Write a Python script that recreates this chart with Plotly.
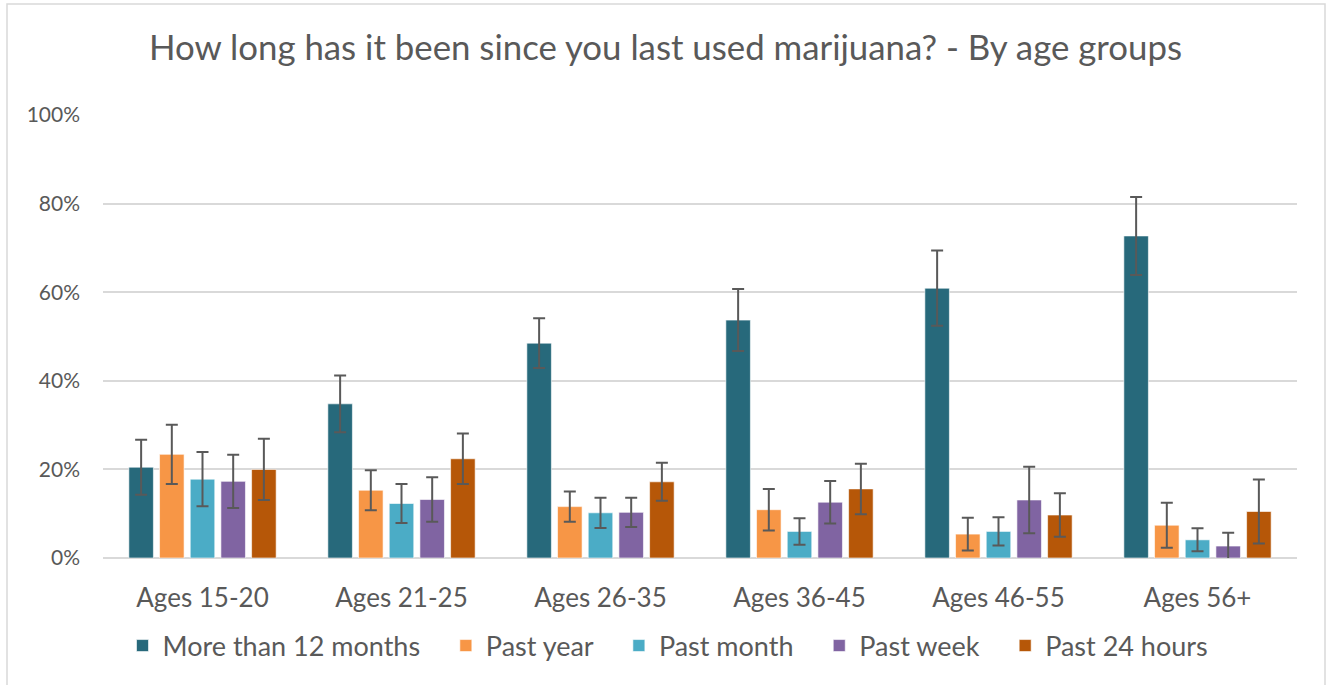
import plotly.graph_objects as go

categories = ["Ages 15-20", "Ages 21-25", "Ages 26-35", "Ages 36-45", "Ages 46-55", "Ages 56+"]

series_names = ["More than 12 months", "Past year", "Past month", "Past week", "Past 24 hours"]

more_than_12_months = [20.5, 34.8, 48.5, 53.7, 60.9, 72.7]
more_than_12_months_err = [6.2, 6.4, 5.6, 7.0, 8.5, 8.8]

past_year = [23.4, 15.3, 11.6, 10.9, 5.4, 7.4]
past_year_err = [6.7, 4.5, 3.4, 4.7, 3.7, 5.1]

past_month = [17.8, 12.3, 10.2, 6.0, 6.0, 4.1]
past_month_err = [6.1, 4.4, 3.4, 3.0, 3.2, 2.6]

past_week = [17.3, 13.2, 10.3, 12.6, 13.1, 2.7]
past_week_err = [6.0, 5.0, 3.3, 4.8, 7.5, 3.0]

past_24_hours = [20.0, 22.4, 17.2, 15.6, 9.7, 10.5]
past_24_hours_err = [6.9, 5.7, 4.3, 5.7, 4.9, 7.2]

colors = ["#27697B", "#F79646", "#4BACC6", "#8064A2", "#B65708"]

values = [more_than_12_months, past_year, past_month, past_week, past_24_hours]
errors = [more_than_12_months_err, past_year_err, past_month_err, past_week_err, past_24_hours_err]

FONT = "Lato"
TXT = "#595959"
PAD = "\u00a0" * 3  # extra spacing between legend entries

fig = go.Figure()
for i, (name, vals, errs, col) in enumerate(zip(series_names, values, errors, colors)):
    label = name + (PAD if i < len(series_names) - 1 else "")
    fig.add_trace(go.Bar(
        x=categories, y=vals, name=label,
        marker=dict(color=col, line=dict(color="rgba(255,255,255,0.6)", width=1)),
        error_y=dict(type="data", array=errs, visible=True, color="#595959",
                     thickness=2, width=6),
    ))

# plot area geometry (pixels)
W, H = 1331, 685
L, R, T, B = 103, 1297, 115, 558

fig.update_layout(
    width=W, height=H,
    margin=dict(l=L, r=W - R, t=T, b=H - B, pad=0),
    paper_bgcolor="white", plot_bgcolor="white",
    barmode="group", bargap=0.229, bargroupgap=0.2,
    font=dict(family=FONT, color=TXT),
    title=dict(text="How long has it been since you last used marijuana? - By age groups",
               x=0.5, xanchor="center", y=1 - 48 / H, yanchor="middle",
               font=dict(size=34.8, family=FONT, color=TXT)),
    legend=dict(orientation="h", x=(668 - L) / (R - L), xanchor="center",
                y=(B - 646) / (B - T), yanchor="middle",
                font=dict(size=27, family=FONT, color=TXT),
                traceorder="normal"),
    xaxis=dict(showgrid=False, showline=False, ticks="",
               tickfont=dict(size=26, family=FONT, color=TXT),
               ticklabelstandoff=22),
    yaxis=dict(range=[0, 100], dtick=20, ticksuffix="%", showgrid=True,
               gridcolor="#D9D9D9", gridwidth=1.5, zeroline=True,
               zerolinecolor="#D9D9D9", zerolinewidth=1.5, showline=False,
               tickfont=dict(size=21, family=FONT, color=TXT),
               ticklabelstandoff=22),
    shapes=[dict(type="rect", xref="paper", yref="paper",
                 x0=(7 - L) / (R - L), x1=(1325 - L) / (R - L),
                 y0=(B - 700) / (B - T), y1=(B - 4) / (B - T),
                 line=dict(color="#D9D9D9", width=1.5), fillcolor="rgba(0,0,0,0)",
                 layer="below")],
)

fig.write_html("out.html", config={"displayModeBar": False},
               post_script="document.body.style.margin='0';")
